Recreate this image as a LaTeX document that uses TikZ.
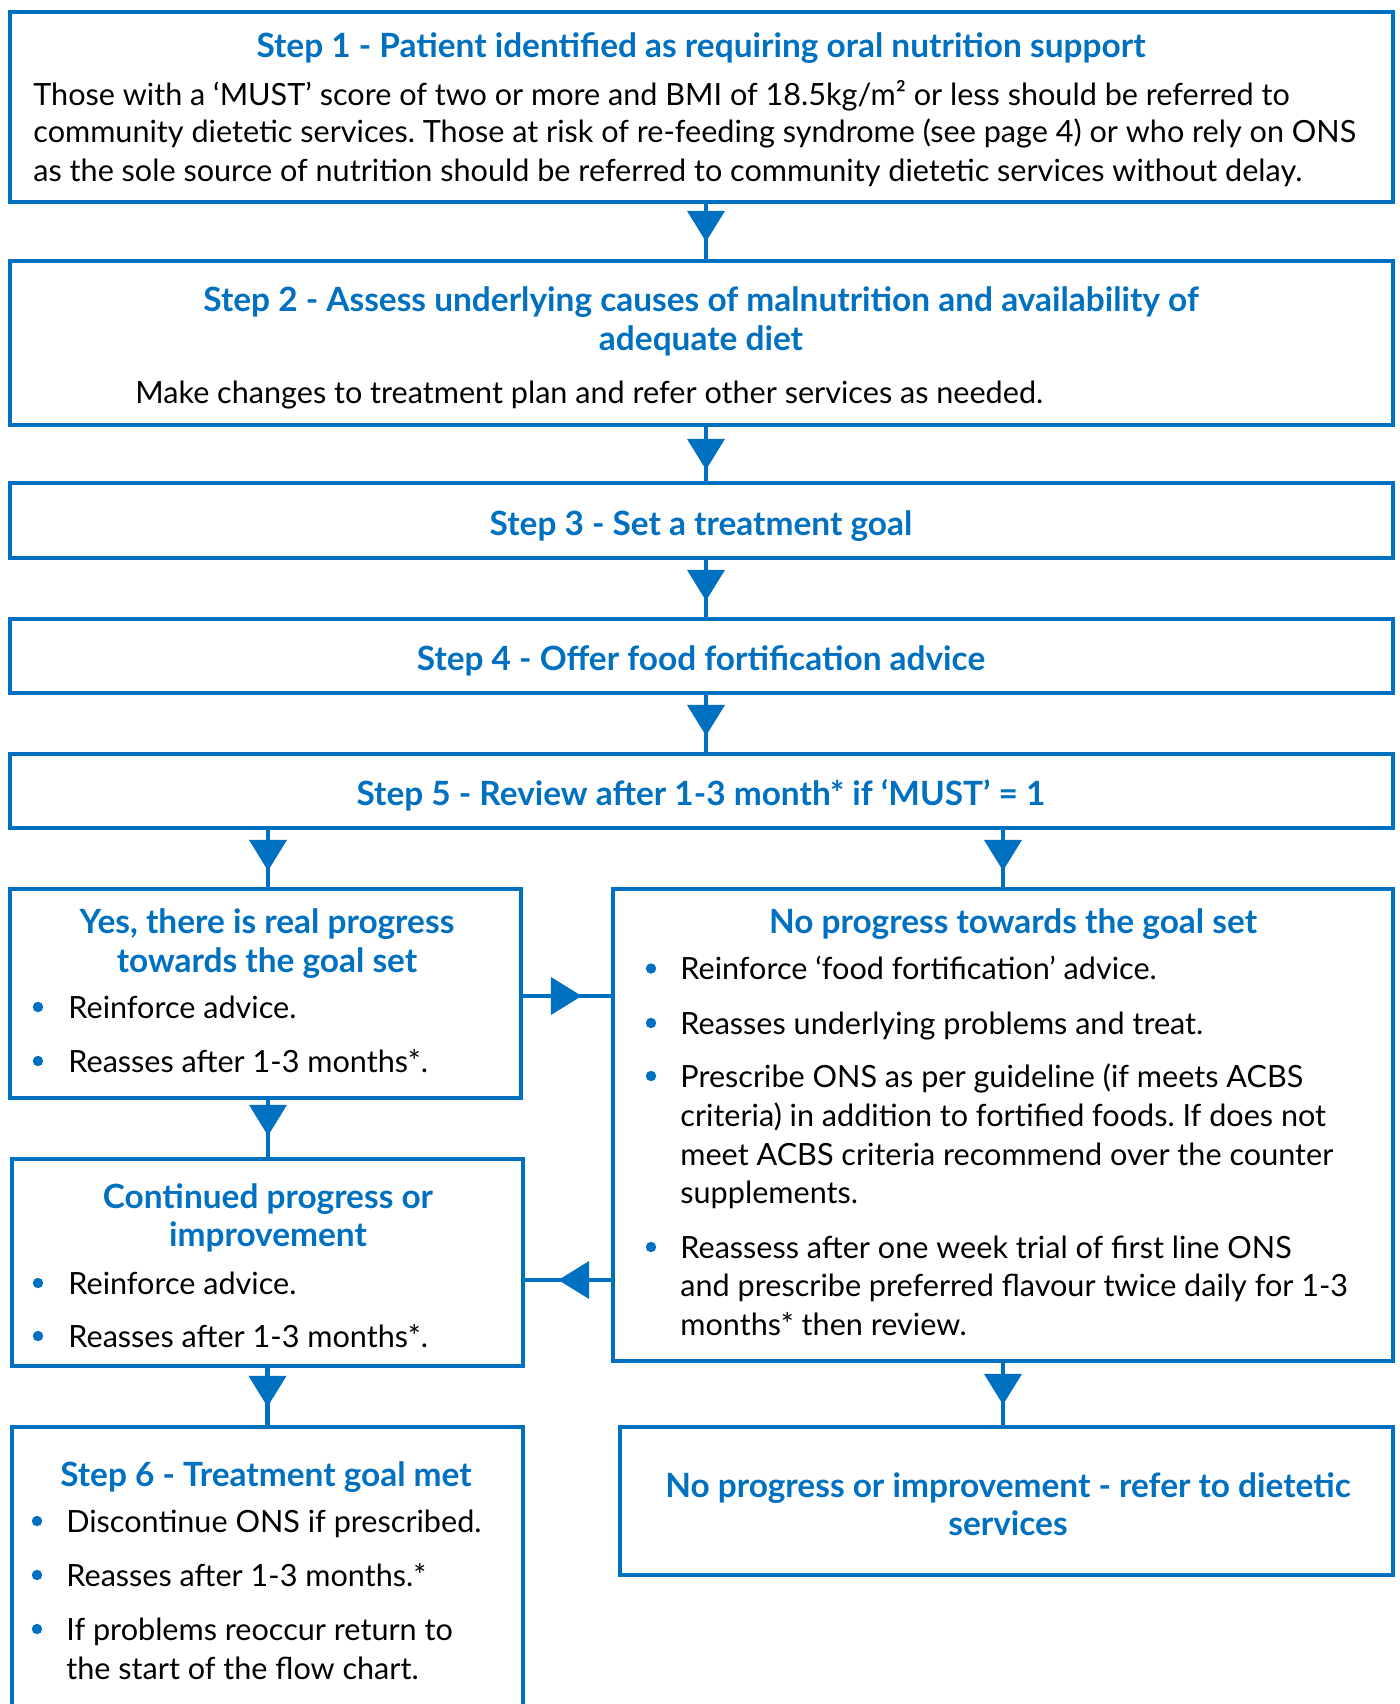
\documentclass[tikz,border=0pt]{standalone}
\usepackage{fontspec}
\setmainfont{Lato}
\usetikzlibrary{fit,decorations.markings,arrows.meta}
\definecolor{nblue}{HTML}{0070C0}
\frenchspacing
\begin{document}
\begin{tikzpicture}[x=0.5pt,y=-0.5pt,
  box/.style={draw=nblue, line width=2.2pt, inner sep=0pt},
  hd/.style={font=\fontsize{16.7}{20}\selectfont\bfseries, text=nblue, inner sep=0pt, anchor=mid, yshift=-3.5pt},
  tx/.style={font=\fontsize{15.3}{18}\selectfont, inner sep=0pt, anchor=mid west, yshift=-3.2pt},
  conn/.style={draw=nblue, line width=2.2pt},
  tipat/.style={postaction={decorate,decoration={markings,mark=at position -#1 with {\arrow{Triangle[length=15.5pt,width=18.5pt]}}}}},
  bul/.style={fill=nblue}
]
\useasboundingbox (0,0) rectangle (1400,1704);
\fill[white] (0,0) rectangle (1400,1704);

% boxes
\node[box, fit={(10,12) (1393,202)}] (b1) {};
\node[box, fit={(10,261) (1393,425)}] (b2) {};
\node[box, fit={(10,483) (1393,558)}] (b3) {};
\node[box, fit={(10,619) (1393,693)}] (b4) {};
\node[box, fit={(10,754) (1393,828)}] (b5) {};
\node[box, fit={(10,889) (521,1098)}] (yes) {};
\node[box, fit={(613,889) (1393,1361)}] (no) {};
\node[box, fit={(12,1159) (523,1366)}] (cont) {};
\node[box, fit={(12,1427) (523,1740)}] (s6) {};
\node[box, fit={(620,1427) (1393,1575)}] (ref) {};

% step 1
\node[hd] (h1) at (701,45) {Step 1 - Patient identified as requiring oral nutrition support};
\node[tx] (t1a) at (33,94.5) {Those with a ‘MUST’ score of two or more and BMI of 18.5kg/m² or less should be referred to};
\node[tx] (t1b) at (33,131.5) {community dietetic services. Those at risk of re-feeding syndrome (see page 4) or who rely on ONS};
\node[tx] (t1c) at (33,170.5) {as the sole source of nutrition should be referred to community dietetic services without delay.};

% step 2
\node[hd] (h2a) at (701,299) {Step 2 - Assess underlying causes of malnutrition and availability of};
\node[hd] (h2b) at (701,338) {adequate diet};
\node[tx] (t2) at (135,392) {Make changes to treatment plan and refer other services as needed.};

% steps 3-5
\node[hd] (h3) at (701,523) {Step 3 - Set a treatment goal};
\node[hd] (h4) at (701,658) {Step 4 - Offer food fortification advice};
\node[hd] (h5) at (701,793.5) {Step 5 - Review after 1-3 month* if ‘MUST’ = 1};

% yes box
\node[hd] (hya) at (267,921) {Yes, there is real progress};
\node[hd] (hyb) at (267,960) {towards the goal set};
\fill[bul] (38,1007) circle (2.6pt);
\node[tx] (ty1) at (68,1007) {Reinforce advice.};
\fill[bul] (38,1061) circle (2.6pt);
\node[tx] (ty2) at (68,1061) {Reasses after 1-3 months*.};

% no box
\node[hd] (hn) at (1013,921) {No progress towards the goal set};
\fill[bul] (651,968.5) circle (2.6pt);
\node[tx] (tn1) at (680,968.5) {Reinforce ‘food fortification’ advice.};
\fill[bul] (651,1023) circle (2.6pt);
\node[tx] (tn2) at (680,1023) {Reasses underlying problems and treat.};
\fill[bul] (651,1076) circle (2.6pt);
\node[tx] (tn3a) at (680,1076) {Prescribe ONS as per guideline (if meets ACBS};
\node[tx] (tn3b) at (680,1115) {criteria) in addition to fortified foods. If does not};
\node[tx] (tn3c) at (680,1154) {meet ACBS criteria recommend over the counter};
\node[tx] (tn3d) at (680,1192) {supplements.};
\fill[bul] (651,1247) circle (2.6pt);
\node[tx] (tn4a) at (680,1247) {Reassess after one week trial of first line ONS};
\node[tx] (tn4b) at (680,1285) {and prescribe preferred flavour twice daily for 1-3};
\node[tx] (tn4c) at (680,1324) {months* then review.};

% continued box
\node[hd] (hca) at (268,1196) {Continued progress or};
\node[hd] (hcb) at (268,1234) {improvement};
\fill[bul] (38,1283) circle (2.6pt);
\node[tx] (tc1) at (68,1283) {Reinforce advice.};
\fill[bul] (38,1336) circle (2.6pt);
\node[tx] (tc2) at (68,1336) {Reasses after 1-3 months*.};

% step 6
\node[hd] (h6) at (266,1474) {Step 6 - Treatment goal met};
\fill[bul] (37,1521) circle (2.6pt);
\node[tx] (t61) at (66,1521) {Discontinue ONS if prescribed.};
\fill[bul] (37,1575) circle (2.6pt);
\node[tx] (t62) at (66,1575) {Reasses after 1-3 months.*};
\fill[bul] (37,1629) circle (2.6pt);
\node[tx] (t63a) at (66,1629) {If problems reoccur return to};
\node[tx] (t63b) at (66,1668) {the start of the flow chart.};

% refer box
\node[hd] (hra) at (1008,1485) {No progress or improvement - refer to dietetic};
\node[hd] (hrb) at (1008,1523) {services};

% connectors
\draw[conn,tipat=8.5pt] ([xshift=2.25pt]b1.south) -- ([xshift=2.25pt]b2.north);
\draw[conn,tipat=5.5pt] ([xshift=2.25pt]b2.south) -- ([xshift=2.25pt]b3.north);
\draw[conn,tipat=8pt] ([xshift=2.25pt]b3.south) -- ([xshift=2.25pt]b4.north);
\draw[conn,tipat=8pt] ([xshift=2.25pt]b4.south) -- ([xshift=2.25pt]b5.north);
\draw[conn,tipat=8pt] ([xshift=1.25pt]yes.north |- b5.south) -- ([xshift=1.25pt]yes.north);
\draw[conn,tipat=8pt] (no.north |- b5.south) -- (no.north);
\draw[conn,tipat=10.5pt] ([xshift=1.25pt]yes.south) -- ([xshift=1.25pt]yes.south |- cont.north);
\draw[conn,tipat=9pt] (cont.south) -- (s6.north);
\draw[conn,tipat=10pt] (no.south) -- (no.south |- ref.north);
\coordinate (c10) at ([yshift=-1.25pt]yes.east);
\draw[conn,tipat=14.5pt] (c10) -- (c10 -| no.west);
\coordinate (c11) at ([yshift=-8.75pt]cont.east);
\draw[conn,tipat=16.5pt] (c11 -| no.west) -- (c11);
\end{tikzpicture}
\end{document}
